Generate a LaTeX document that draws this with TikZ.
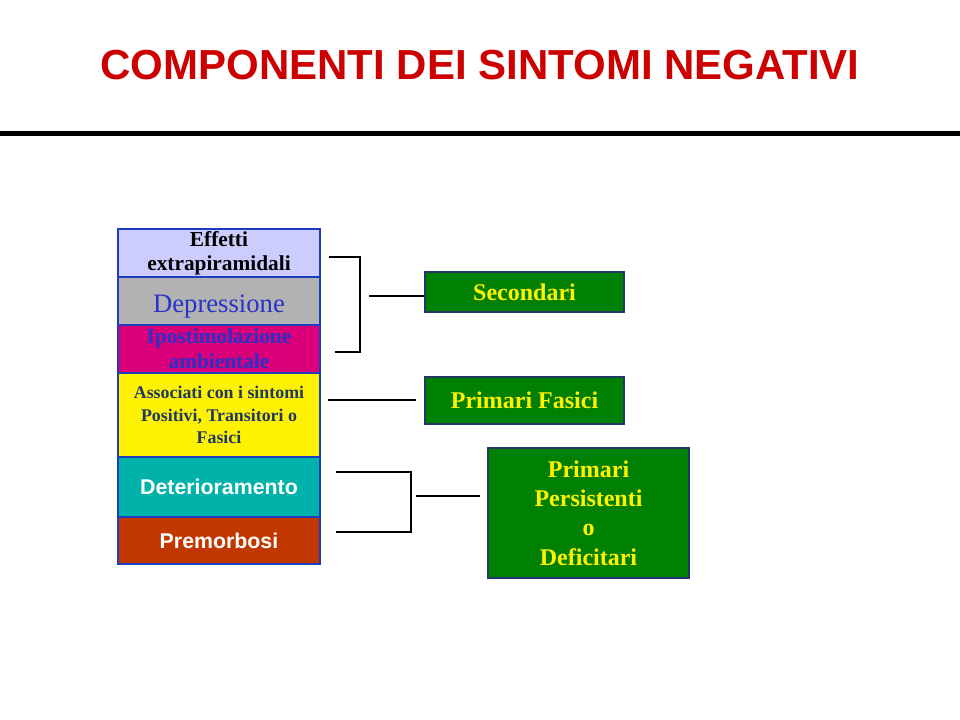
\documentclass[tikz,border=0pt]{standalone}
\usepackage{fontspec}
\setmainfont{Liberation Serif}
\setsansfont{Liberation Sans}
\usepackage{tikz}

\definecolor{titlered}{RGB}{204,0,0}
\definecolor{lavender}{RGB}{204,204,255}
\definecolor{slidegray}{RGB}{178,178,178}
\definecolor{magentabox}{RGB}{217,0,122}
\definecolor{tealbox}{RGB}{0,178,170}
\definecolor{rustbox}{RGB}{192,56,0}
\definecolor{boxgreen}{RGB}{0,128,0}
\definecolor{textblue}{RGB}{40,50,200}
\definecolor{navy}{RGB}{32,56,100}
\definecolor{edgeblue}{RGB}{30,60,190}

\begin{document}
\begin{tikzpicture}[
    x=0.75pt, y=-0.75pt,
    leftbox/.style={draw=edgeblue, line width=1pt, inner sep=0pt,
        minimum width=151.5pt, align=center},
    greenbox/.style={draw=navy, line width=1pt, fill=boxgreen, inner sep=0pt,
        text=yellow, align=center, font=\bfseries\fontsize{18}{22}\selectfont},
    link/.style={black, line width=0.8pt}
]
\useasboundingbox (0,0) rectangle (960,720);

% Title
\node[text=titlered, font=\sffamily\bfseries\fontsize{31.5}{36}\selectfont] (title) at (480,65) {COMPONENTI DEI SINTOMI NEGATIVI};
\draw[line width=3.75pt] (0,134) -- (960,134);

% Left column
\node[leftbox, fill=lavender, minimum height=36pt, text=black,
    font=\bfseries\fontsize{16}{18}\selectfont] (eff) at (219,253) {Effetti\\ extrapiramidali};
\node[leftbox, fill=slidegray, text height=26.25pt, text depth=9.75pt, text=textblue,
    font=\fontsize{20}{24}\selectfont] (dep) at (219,301) {Depressione};
\node[leftbox, fill=magentabox, minimum height=36pt, text=textblue,
    font=\bfseries\fontsize{16}{18.75}\selectfont] (ipo) at (219,349) {Ipostimolazione\\ ambientale};
\node[leftbox, fill=yellow, minimum height=63pt, text=navy,
    font=\bfseries\fontsize{13.4}{17}\selectfont] (ass) at (219,415) {Associati con i sintomi\\ Positivi, Transitori o\\ Fasici};
\node[leftbox, fill=tealbox, minimum height=45pt, text=white,
    font=\sffamily\bfseries\fontsize{16}{19}\selectfont] (det) at (219,487) {Deterioramento};
\node[leftbox, fill=rustbox, minimum height=35.25pt, text=white,
    font=\sffamily\bfseries\fontsize{16}{19}\selectfont] (pre) at (219,540.5) {Premorbosi};

% Right column
\node[greenbox, minimum width=149.25pt, minimum height=30pt] (sec) at (524.5,292) {Secondari};
\node[greenbox, minimum width=149.25pt, minimum height=35.25pt] (fas) at (524.5,400.5) {Primari Fasici};
\node[greenbox, minimum width=150.75pt, minimum height=97.5pt] (def) at (588.5,513) {Primari\\ Persistenti\\ o\\ Deficitari};

% Bracket ends
\coordinate (b1top) at (329,257);
\coordinate (b1bot) at (335,352);
\coordinate (b1mid) at (369,296);
\coordinate (b1end) at (424,296);
\coordinate (b2from) at (328,400);
\coordinate (b2to) at (416,400);
\coordinate (b3top) at (336,472);
\coordinate (b3bot) at (336,532);
\coordinate (b3mid) at (416,496);
\coordinate (b3end) at (480,496);

% Connectors
\draw[link] (b1top) -- ++(31,0) |- (b1bot);
\draw[link] (b1mid) -- (b1end);
\draw[link] (b2from) -- (b2to);
\draw[link] (b3top) -- ++(75,0) |- (b3bot);
\draw[link] (b3mid) -- (b3end);

\end{tikzpicture}
\end{document}
